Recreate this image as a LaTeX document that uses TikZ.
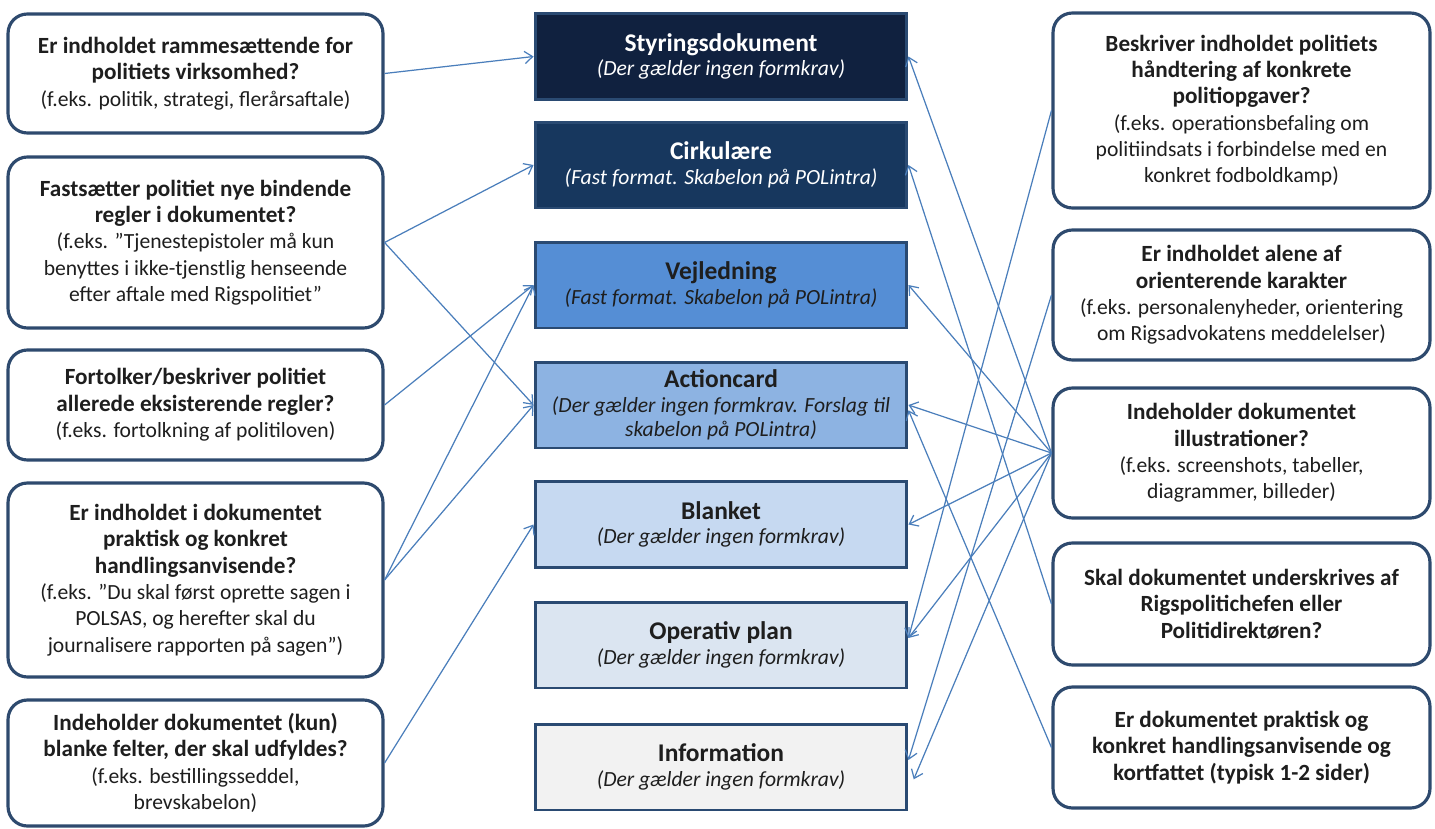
\documentclass[tikz,border=0pt]{standalone}
\usepackage{fontspec}
\setmainfont{Carlito}
\usetikzlibrary{arrows.meta}

\definecolor{qline}{HTML}{2E4A6E}
\definecolor{docline}{HTML}{2A4A72}
\definecolor{linkc}{HTML}{4A7EBB}
\definecolor{styr}{HTML}{10213F}
\definecolor{cirk}{HTML}{17375E}
\definecolor{vejl}{HTML}{558ED5}
\definecolor{acti}{HTML}{8DB3E2}
\definecolor{blan}{HTML}{C6D9F1}
\definecolor{oper}{HTML}{DBE5F1}
\definecolor{info}{HTML}{F2F2F2}
\definecolor{txt}{HTML}{1E1E1E}

\newcommand{\qq}[1]{{\fontsize{13.2}{15}\selectfont\bfseries #1}}
\newcommand{\dtitle}[1]{{\fontsize{14.5}{15}\selectfont\bfseries #1}}

\begin{document}
\begin{tikzpicture}[x=0.02cm,y=-0.02cm,
  qbox/.style={draw=qline,line width=1.8pt,rounded corners=11pt,fill=white,align=center,
    inner sep=2pt,text=txt,font=\fontsize{12.3}{15}\selectfont},
  lq/.style={qbox,minimum width=7.5cm},
  rq/.style={qbox,minimum width=7.54cm},
  doc/.style={draw=docline,line width=1.7pt,minimum width=7.44cm,minimum height=1.72cm,
    align=center,inner sep=2pt,text=txt,font=\fontsize{12.3}{14}\selectfont},
  link/.style={draw=linkc,line width=0.7pt,-{Straight Barb[length=4.5pt,width=7pt]}}]
%\draw[step=50,gray!30,very thin] (0,0) grid (1435,828);
\useasboundingbox (0,0) rectangle (1435,828);

% questions, left
\node[lq,minimum height=2.38cm] (l1) at (195.5,73.5) {\qq{Er indholdet rammesættende for}\\\qq{politiets virksomhed?}\\(f.eks. politik, strategi, flerårsaftale)};
\node[lq,minimum height=3.42cm] (l2) at (195.5,242.5) {\qq{Fastsætter politiet nye bindende}\\\qq{regler i dokumentet?}\\(f.eks. ”Tjenestepistoler må kun\\benyttes i ikke-tjenstlig henseende\\efter aftale med Rigspolitiet”};
\node[lq,minimum height=2.2cm] (l3) at (195.5,405) {\qq{Fortolker/beskriver politiet}\\\qq{allerede eksisterende regler?}\\(f.eks. fortolkning af politiloven)};
\node[lq,minimum height=3.88cm] (l4) at (195.5,580) {\qq{Er indholdet i dokumentet}\\\qq{praktisk og konkret}\\\qq{handlingsanvisende?}\\(f.eks. ”Du skal først oprette sagen i\\POLSAS, og herefter skal du\\journalisere rapporten på sagen”)};
\node[lq,minimum height=2.52cm] (l5) at (195.5,763) {\qq{Indeholder dokumentet (kun)}\\\qq{blanke felter, der skal udfyldes?}\\(f.eks. bestillingsseddel,\\brevskabelon)};

% document types
\node[doc,fill=styr,text=white] (c1) at (721,56.5) {\dtitle{Styringsdokument}\\\textit{(Der gælder ingen formkrav)}};
\node[doc,fill=cirk,text=white] (c2) at (721,165) {\dtitle{Cirkulære}\\\textit{(Fast format. Skabelon på POLintra)}};
\node[doc,fill=vejl] (c3) at (721,285) {\dtitle{Vejledning}\\\textit{(Fast format. Skabelon på POLintra)}};
\node[doc,fill=acti] (c4) at (721,405) {\dtitle{Actioncard}\\\textit{(Der gælder ingen formkrav. Forslag til}\\\textit{skabelon på POLintra)}};
\node[doc,fill=blan] (c5) at (721,524.5) {\dtitle{Blanket}\\\textit{(Der gælder ingen formkrav)}};
\node[doc,fill=oper] (c6) at (721,645) {\dtitle{Operativ plan}\\\textit{(Der gælder ingen formkrav)}};
\node[doc,fill=info] (c7) at (721,767) {\dtitle{Information}\\\textit{(Der gælder ingen formkrav)}};

% questions, right
\node[rq,minimum height=3.9cm] (r1) at (1241.5,110.5) {\qq{Beskriver indholdet politiets}\\\qq{håndtering af konkrete}\\\qq{politiopgaver?}\\(f.eks. operationsbefaling om\\politiindsats i forbindelse med en\\konkret fodboldkamp)};
\node[rq,minimum height=2.6cm] (r2) at (1241.5,295) {\qq{Er indholdet alene af}\\\qq{orienterende karakter}\\(f.eks. personalenyheder, orientering\\om Rigsadvokatens meddelelser)};
\node[rq,minimum height=2.6cm] (r3) at (1241.5,453) {\qq{Indeholder dokumentet}\\\qq{illustrationer?}\\(f.eks. screenshots, tabeller,\\diagrammer, billeder)};
\node[rq,minimum height=2.44cm] (r4) at (1241.5,604) {\qq{Skal dokumentet underskrives af}\\\qq{Rigspolitichefen eller}\\\qq{Politidirektøren?}};
\node[rq,minimum height=2.42cm] (r5) at (1241.5,747.5) {\qq{Er dokumentet praktisk og}\\\qq{konkret handlingsanvisende og}\\\qq{kortfattet (typisk 1-2 sider)}};

\draw[link] (l1.east) -- (c1.west);
\draw[link] (l2.east) -- (c2.west);
\draw[link] (l2.east) -- (c4.west);
\draw[link] (l3.east) -- (c3.west);
\draw[link] (l4.east) -- (c3.west);
\draw[link] (l4.east) -- (c4.west);
\draw[link] (l5.east) -- (c5.west);

\draw[link] (r1.west) -- ([yshift=4pt]c6.east);
\draw[link] (r2.west) -- ([yshift=4pt]c7.east);
\foreach \t in {c1,c3,c4,c5}
  \draw[link] (r3.west) -- (\t.east);
\draw[link] (r3.west) -- ([yshift=4pt]c6.east);
\draw[link] (r3.west) -- ([xshift=3pt,yshift=-7pt]c7.east);
\draw[link] (r4.west) -- (c2.east);
\draw[link] (r5.west) -- ([yshift=-3pt]c4.east);

\end{tikzpicture}
\end{document}
